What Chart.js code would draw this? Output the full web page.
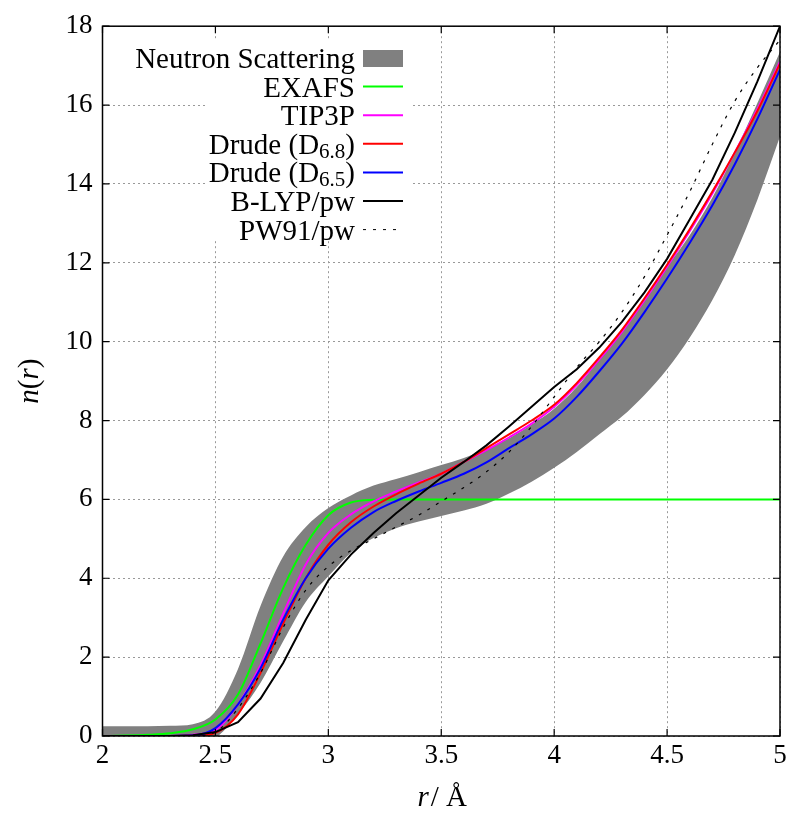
<!DOCTYPE html>
<html>
<head>
<meta charset="utf-8">
<script src="https://cdn.jsdelivr.net/npm/chart.js@4.4.1/dist/chart.umd.min.js"></script>
<style>
  body { margin: 0; background: #fff; }
  canvas { display: block; }
</style>
</head>
<body>
<canvas id="nrChart" width="800" height="818"></canvas>
<script>
// r in Angstrom
const r = [2.0, 2.1, 2.2, 2.3, 2.4, 2.5, 2.6, 2.7, 2.8, 2.9,
           3.0, 3.1, 3.2, 3.3, 3.4, 3.5, 3.6, 3.7, 3.8, 3.9,
           4.0, 4.1, 4.2, 4.3, 4.4, 4.5, 4.6, 4.7, 4.8, 4.9, 5.0];

// neutron scattering band (lower / upper edge)
const neutronLow = [-0.23, -0.23, -0.23, -0.23, -0.22, -0.05, 0.55, 1.35, 2.4, 3.4,
                    4.05, 4.65, 5.02, 5.27, 5.44, 5.58, 5.72, 5.89, 6.15, 6.45,
                    6.8, 7.2, 7.65, 8.1, 8.65, 9.3, 10.1, 11.05, 12.2, 13.6, 15.2];
const neutronHigh = [0.25, 0.25, 0.25, 0.26, 0.3, 0.62, 1.7, 3.3, 4.55, 5.3,
                     5.78, 6.1, 6.35, 6.52, 6.69, 6.87, 7.05, 7.27, 7.55, 7.9,
                     8.3, 8.85, 9.55, 10.3, 11.1, 11.9, 12.7, 13.65, 14.8, 16.05, 17.35];

const exafs = [0, 0.01, 0.03, 0.07, 0.17, 0.42, 1.05, 2.35, 3.75, 4.85,
               5.6, 5.92, 5.99, 6, 6, 6, 6, 6, 6, 6,
               6, 6, 6, 6, 6, 6, 6, 6, 6, 6, 6];
const tip3p = [0, 0, 0, 0, 0.03, 0.15, 0.8, 1.8, 3.1, 4.35,
               5.15, 5.62, 5.95, 6.2, 6.43, 6.65, 6.95, 7.25, 7.57, 7.92,
               8.35, 8.9, 9.55, 10.25, 11.05, 11.9, 12.8, 13.75, 14.8, 15.9, 17.1];
const drude68 = [0, 0, 0, 0, 0, 0.08, 0.55, 1.6, 2.85, 4.0,
                 4.85, 5.42, 5.82, 6.13, 6.4, 6.65, 6.95, 7.3, 7.65, 8.0,
                 8.4, 8.95, 9.6, 10.3, 11.1, 11.95, 12.85, 13.8, 14.8, 15.85, 17.05];
const drude65 = [0, 0, 0, 0, 0.01, 0.2, 0.8, 1.72, 2.95, 4.0,
                 4.75, 5.28, 5.68, 5.96, 6.2, 6.42, 6.65, 6.94, 7.3, 7.65,
                 8.05, 8.6, 9.25, 9.95, 10.75, 11.6, 12.5, 13.45, 14.5, 15.65, 16.9];
const blyp = [0, 0, 0, 0, 0.02, 0.1, 0.35, 0.95, 1.85, 2.95,
              3.95, 4.6, 5.15, 5.65, 6.1, 6.55, 6.95, 7.37, 7.85, 8.35,
              8.85, 9.3, 9.85, 10.5, 11.25, 12.1, 13.1, 14.1, 15.3, 16.6, 18.0];
const pw91 = [0, 0, 0, 0, 0, 0.1, 0.7, 1.6, 2.75, 3.7,
              4.3, 4.7, 5.0, 5.3, 5.6, 5.95, 6.3, 6.7, 7.2, 7.85,
              8.6, 9.35, 10.0, 10.75, 11.65, 12.7, 13.8, 15.0, 16.1, 16.95, 17.65];

const xTicks = [2, 2.5, 3, 3.5, 4, 4.5, 5];
const yTicks = [0, 2, 4, 6, 8, 10, 12, 14, 16, 18];

const legendItems = [
    { label: 'Neutron Scattering', sub: '', color: '#808080', kind: 'box' },
    { label: 'EXAFS', sub: '', color: '#00ff00', kind: 'line' },
    { label: 'TIP3P', sub: '', color: '#ff00ff', kind: 'line' },
    { label: 'Drude (D', sub: '6.8', color: '#ff0000', kind: 'line' },
    { label: 'Drude (D', sub: '6.5', color: '#0000ff', kind: 'line' },
    { label: 'B-LYP/pw', sub: '', color: '#000000', kind: 'line' },
    { label: 'PW91/pw', sub: '', color: '#000000', kind: 'dash' }
];

const pts = ys => r.map((x, i) => ({ x: x, y: ys[i] }));
const SERIF = '"Liberation Serif", "DejaVu Serif", serif';

function curve(ys, color, order, extra) {
    return Object.assign({
        data: pts(ys),
        borderColor: color,
        borderWidth: 2,
        pointRadius: 0,
        fill: false,
        cubicInterpolationMode: 'monotone',
        order: order
    }, extra || {});
}

// frame, inward ticks, legend and axis titles
const decorations = {
    id: 'decorations',
    afterDraw(chart) {
        const ctx = chart.ctx;
        const a = chart.chartArea;
        const xs = chart.scales.x, ys = chart.scales.y;
        ctx.save();
        ctx.strokeStyle = '#000';
        ctx.lineWidth = 1.5;
        ctx.strokeRect(a.left, a.top, a.right - a.left, a.bottom - a.top);
        ctx.lineWidth = 1.2;
        ctx.beginPath();
        xTicks.forEach(t => {
            const px = xs.getPixelForValue(t);
            ctx.moveTo(px, a.bottom); ctx.lineTo(px, a.bottom - 7);
            ctx.moveTo(px, a.top); ctx.lineTo(px, a.top + 7);
        });
        yTicks.forEach(t => {
            const py = ys.getPixelForValue(t);
            ctx.moveTo(a.left, py); ctx.lineTo(a.left + 7, py);
            ctx.moveTo(a.right, py); ctx.lineTo(a.right - 7, py);
        });
        ctx.stroke();

        // legend
        ctx.fillStyle = '#fff';
        ctx.fillRect(205, 40, 205, 200);
        const textRight = 355, rowTop = 58, rowGap = 28.6;
        legendItems.forEach((it, i) => {
            const y = rowTop + i * rowGap;
            ctx.fillStyle = '#000';
            ctx.textBaseline = 'alphabetic';
            ctx.textAlign = 'right';
            let right = textRight;
            if (it.sub) {
                ctx.font = '29px ' + SERIF;
                ctx.fillText(')', right, y + 10);
                right -= ctx.measureText(')').width;
                ctx.font = '21px ' + SERIF;
                ctx.fillText(it.sub, right, y + 14);
                right -= ctx.measureText(it.sub).width;
            }
            ctx.font = '29px ' + SERIF;
            ctx.fillText(it.label, right, y + 10);
            if (it.kind === 'box') {
                ctx.fillStyle = it.color;
                ctx.fillRect(363, y - 8, 40, 17);
            } else {
                ctx.strokeStyle = it.color;
                ctx.lineWidth = it.kind === 'dash' ? 1 : 2;
                ctx.setLineDash(it.kind === 'dash' ? [3, 7] : []);
                ctx.beginPath();
                ctx.moveTo(363, y);
                ctx.lineTo(403, y);
                ctx.stroke();
                ctx.setLineDash([]);
            }
        });

        // x title: r/ Å
        ctx.fillStyle = '#000';
        ctx.textAlign = 'left';
        ctx.textBaseline = 'alphabetic';
        const p1 = 'r', p2 = '/ Å';
        ctx.font = 'italic 29px ' + SERIF;
        const w1 = ctx.measureText(p1).width;
        ctx.font = '29px ' + SERIF;
        const w2 = ctx.measureText(p2).width;
        let x0 = (a.left + a.right) / 2 - (w1 + w2) / 2;
        ctx.font = 'italic 29px ' + SERIF;
        ctx.fillText(p1, x0, 806);
        ctx.font = '29px ' + SERIF;
        ctx.fillText(p2, x0 + w1 + 2, 806);

        // y title: n(r)
        ctx.translate(38, (a.top + a.bottom) / 2);
        ctx.rotate(-Math.PI / 2);
        const parts = [['n', true], ['(', false], ['r', true], [')', false]];
        let total = 0;
        parts.forEach(p => {
            ctx.font = (p[1] ? 'italic ' : '') + '29px ' + SERIF;
            total += ctx.measureText(p[0]).width;
        });
        let cx = -total / 2;
        parts.forEach(p => {
            ctx.font = (p[1] ? 'italic ' : '') + '29px ' + SERIF;
            ctx.fillText(p[0], cx, 0);
            cx += ctx.measureText(p[0]).width;
        });
        ctx.restore();
    }
};

const ctx = document.getElementById('nrChart').getContext('2d');
const nrChart = new Chart(ctx, {
    type: 'line',
    data: {
        datasets: [
            curve(neutronLow, 'rgba(0,0,0,0)', 20, { borderWidth: 0 }),
            curve(neutronHigh, 'rgba(0,0,0,0)', 19, { borderWidth: 0, fill: { target: 0 }, backgroundColor: '#808080' }),
            curve(exafs, '#00ff00', 6),
            curve(tip3p, '#ff00ff', 5),
            curve(drude68, '#ff0000', 4),
            curve(drude65, '#0000ff', 3),
            curve(blyp, '#000000', 2, { cubicInterpolationMode: 'default', tension: 0 }),
            curve(pw91, '#000000', 1, { borderWidth: 1.2, borderDash: [3, 7] })
        ]
    },
    options: {
        responsive: false,
        animation: false,
        layout: { padding: { left: 0, right: 20, top: 19, bottom: 0 } },
        plugins: {
            legend: { display: false },
            tooltip: { enabled: false }
        },
        scales: {
            x: {
                type: 'linear',
                min: 2,
                max: 5,
                afterFit(s) { s.height = 82; },
                afterBuildTicks(s) { s.ticks = xTicks.map(v => ({ value: v })); },
                ticks: {
                    padding: 4,
                    color: '#000',
                    font: { family: SERIF, size: 27 },
                    callback: v => String(v)
                },
                grid: { color: '#999', lineWidth: 1, drawTicks: false },
                border: { display: false, dash: [2, 3] }
            },
            y: {
                type: 'linear',
                min: 0,
                max: 18,
                afterFit(s) { s.width = 102.5; },
                afterBuildTicks(s) { s.ticks = yTicks.map(v => ({ value: v })); },
                ticks: {
                    padding: 10,
                    color: '#000',
                    font: { family: SERIF, size: 27 },
                    callback: v => String(v)
                },
                grid: { color: '#999', lineWidth: 1, drawTicks: false },
                border: { display: false, dash: [2, 3] }
            }
        }
    },
    plugins: [decorations]
});
</script>
</body>
</html>
